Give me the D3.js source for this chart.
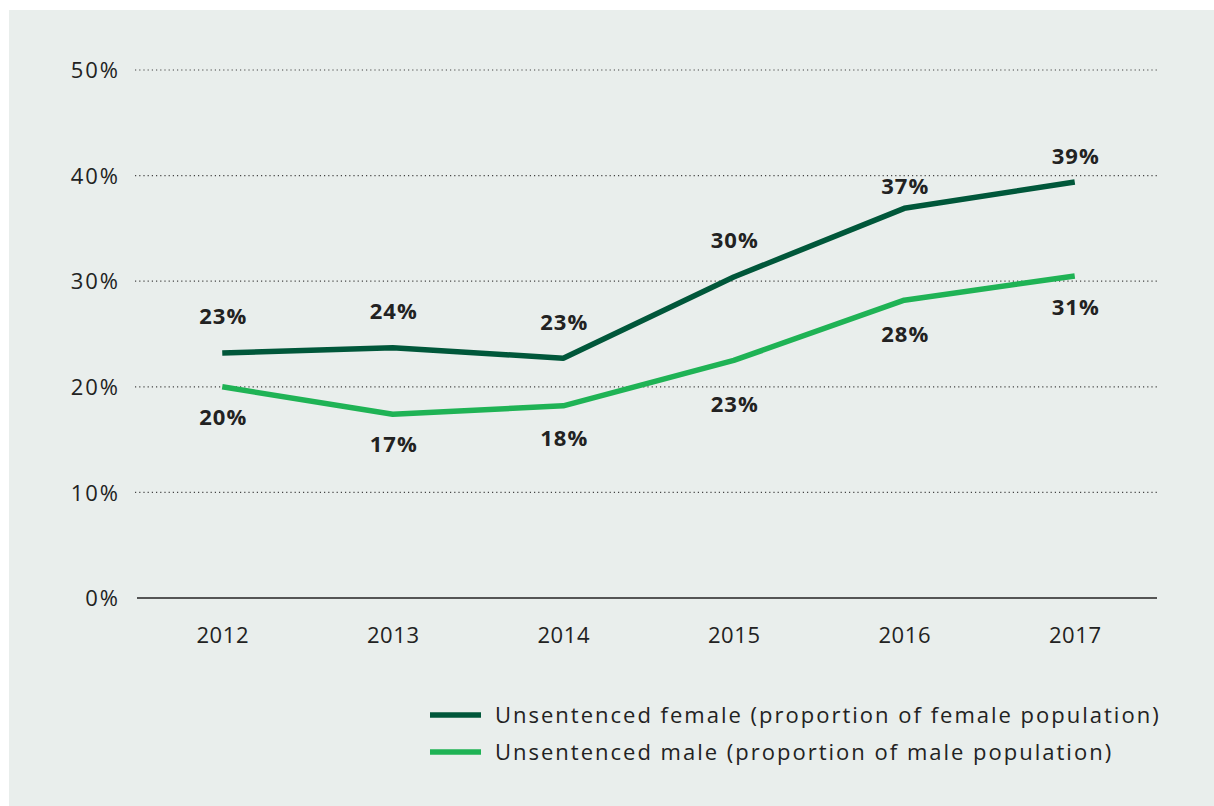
<!DOCTYPE html>
<html><head><meta charset="utf-8">
<script src="https://cdn.jsdelivr.net/npm/d3@7"></script>
<style>
html,body{margin:0;padding:0;background:#fff;}
svg{display:block;font-family:"Open Sans",sans-serif;}
</style></head>
<body>
<svg id="chart" width="1214" height="806"></svg>
<script>
const years = ["2012","2013","2014","2015","2016","2017"];
const femaleValues = [23.2, 23.7, 22.7, 30.4, 36.9, 39.4];
const maleValues = [20.0, 17.4, 18.2, 22.5, 28.2, 30.5];
const femaleLabels = ["23%","24%","23%","30%","37%","39%"];
const maleLabels = ["20%","17%","18%","23%","28%","31%"];
const yTicks = [0, 10, 20, 30, 40, 50];
const seriesNames = ["Unsentenced female (proportion of female population)", "Unsentenced male (proportion of male population)"];

// layout: vertical nudges of the value labels (pixels, baseline relative to the point)
const femaleLabelDy = [-29, -29, -28, -29, -14, -18];
const maleLabelDy = [38, 38, 40, 52, 42, 39];

const colors = {female: "#00573a", male: "#1fb355", bg: "#e9eeec", text: "#222"};

const svg = d3.select("#chart");
svg.append("rect").attr("x", 9).attr("y", 10).attr("width", 1205).attr("height", 796).attr("fill", colors.bg);

const x = d3.scalePoint().domain(years).range([137, 1160]).padding(0.5);
const y = d3.scaleLinear().domain([0, 50]).range([598, 70]);

// gridlines
svg.append("g").selectAll("line").data(yTicks.filter(d => d > 0)).join("line")
  .attr("x1", 135).attr("x2", 1157)
  .attr("y1", d => y(d)).attr("y2", d => y(d))
  .attr("stroke", "#444").attr("stroke-width", 1.2).attr("stroke-dasharray", "1.2,3");

// y axis labels
const yAxis = d3.axisLeft(y).tickValues(yTicks).tickFormat(d => d + "%").tickSize(0).tickPadding(0);
const gy = svg.append("g").attr("transform", "translate(120,0)").call(yAxis);
gy.select(".domain").remove();
gy.selectAll("text").attr("font-size", 22).attr("letter-spacing", 2).attr("fill", colors.text)
  .attr("font-family", "Open Sans, sans-serif").attr("dy", "0.35em");

// x axis
const xAxis = d3.axisBottom(x).tickSize(0).tickPadding(0);
const gx = svg.append("g").attr("transform", "translate(0,598)").call(xAxis);
gx.select(".domain").attr("stroke", "#555").attr("stroke-width", 2).attr("d", "M137,0H1157");
gx.selectAll("text").attr("font-size", 22).attr("letter-spacing", 0.6).attr("fill", colors.text)
  .attr("dy", 0).attr("y", 45).attr("font-family", "Open Sans, sans-serif");

const line = d3.line().x((d, i) => x(years[i])).y(d => y(d));

svg.append("path").datum(maleValues).attr("d", line).attr("fill", "none")
  .attr("stroke", colors.male).attr("stroke-width", 5.5).attr("stroke-linejoin", "bevel");
svg.append("path").datum(femaleValues).attr("d", line).attr("fill", "none")
  .attr("stroke", colors.female).attr("stroke-width", 5.5).attr("stroke-linejoin", "bevel");

// data labels
svg.append("g").selectAll("text").data(femaleValues).join("text")
  .attr("x", (d, i) => x(years[i]) + 1).attr("y", (d, i) => y(d) + femaleLabelDy[i])
  .attr("text-anchor", "middle").attr("font-size", 22).attr("font-weight", 700).attr("letter-spacing", 1)
  .attr("fill", colors.text).text((d, i) => femaleLabels[i]);
svg.append("g").selectAll("text").data(maleValues).join("text")
  .attr("x", (d, i) => x(years[i]) + 1).attr("y", (d, i) => y(d) + maleLabelDy[i])
  .attr("text-anchor", "middle").attr("font-size", 22).attr("font-weight", 700).attr("letter-spacing", 1)
  .attr("fill", colors.text).text((d, i) => maleLabels[i]);

// legend
const legend = svg.append("g");
const legendColors = [colors.female, colors.male];
seriesNames.forEach((name, i) => {
  const ly = 715 + i * 37;
  legend.append("line").attr("x1", 430).attr("x2", 481).attr("y1", ly).attr("y2", ly)
    .attr("stroke", legendColors[i]).attr("stroke-width", 5.5);
  legend.append("text").attr("x", 495).attr("y", ly + 8).attr("font-size", 22).attr("letter-spacing", 2)
    .attr("fill", colors.text).text(name);
});
</script>
</body></html>
